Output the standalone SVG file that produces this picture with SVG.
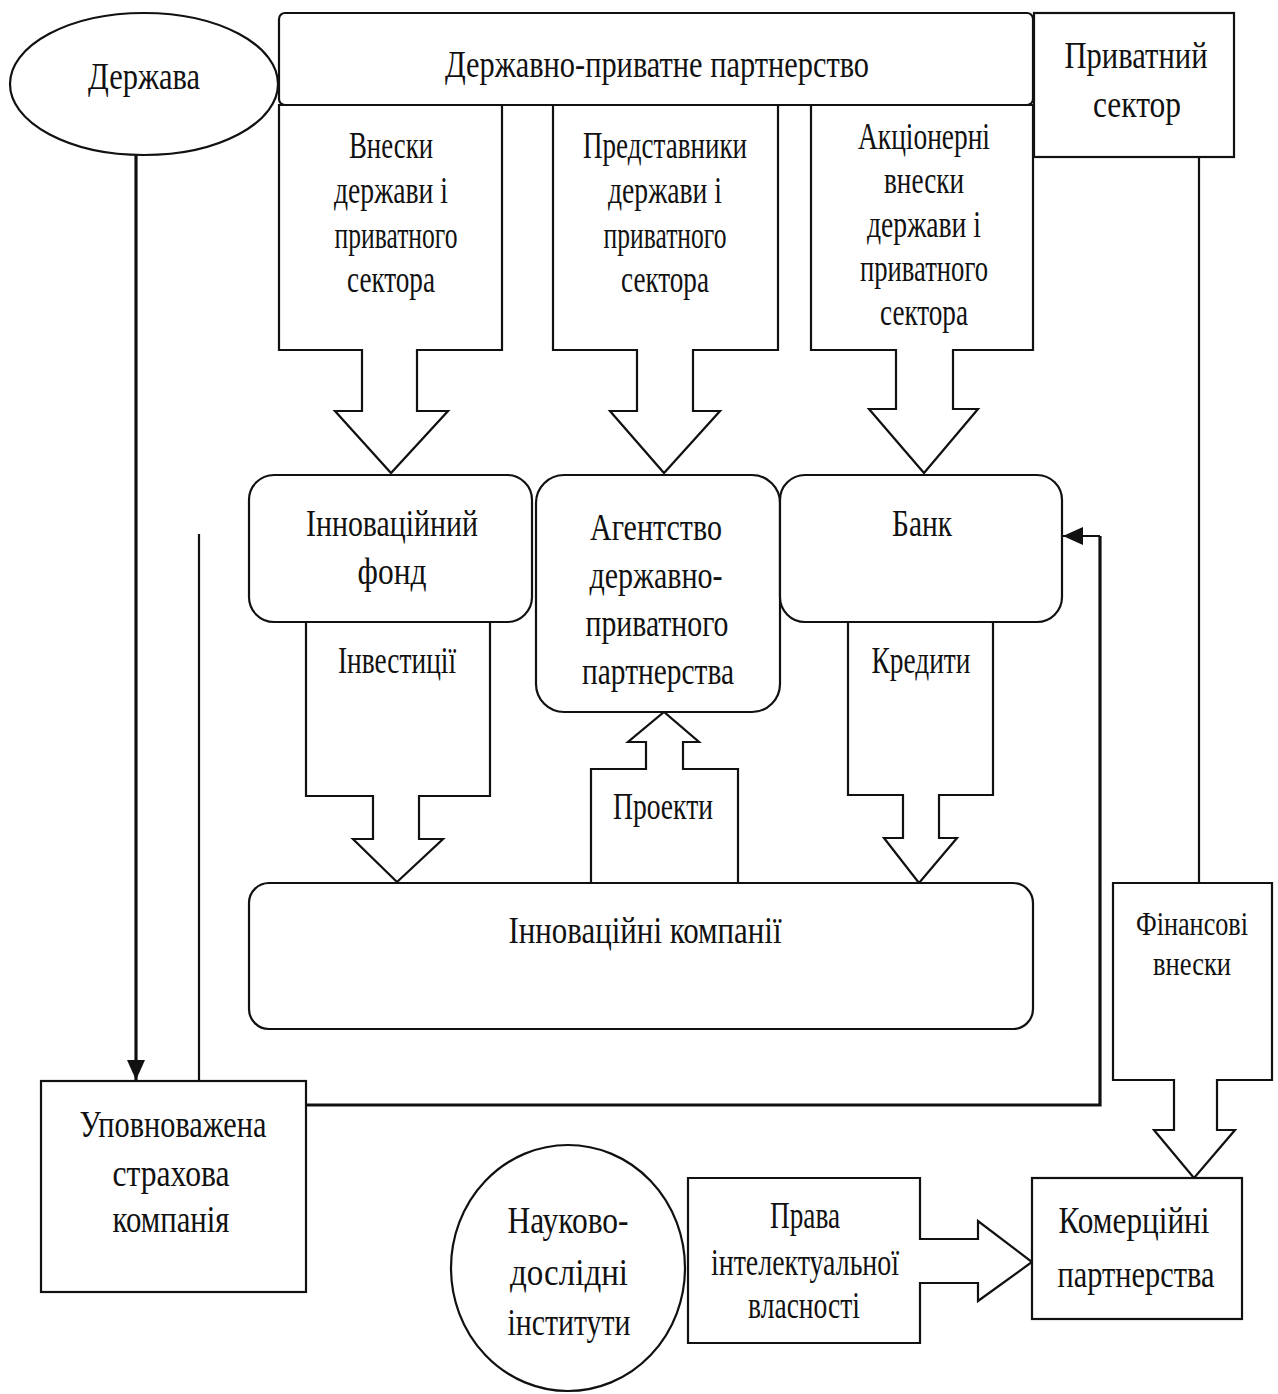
<svg xmlns="http://www.w3.org/2000/svg" width="1278" height="1394" viewBox="0 0 1278 1394">
<style>
.s{fill:#fff;stroke:#111;stroke-width:2.2}
.t{font-family:"Liberation Serif","Times New Roman",serif;font-size:37px;fill:#111;text-anchor:middle}
.c{fill:none;stroke:#111;stroke-width:2.2}
.ck{fill:none;stroke:#111;stroke-width:3.2}
</style>
<defs>
<marker id="ah" viewBox="0 0 20 18" refX="20" refY="9" markerWidth="20" markerHeight="18" orient="auto" markerUnits="userSpaceOnUse">
<path d="M0,0 L20,9 L0,18 Z" fill="#111"/>
</marker>
</defs>
<rect width="1278" height="1394" fill="#fff"/>

<g id="connectors">
<line class="ck" x1="136" y1="155" x2="136" y2="1080" marker-end="url(#ah)"/>
<line class="c" x1="199" y1="534" x2="199" y2="1081"/>
<polyline class="ck" points="306,1105 1100,1105 1100,536" />
<line class="c" x1="1100" y1="536" x2="1063" y2="536" marker-end="url(#ah)"/>
<line class="c" x1="1199" y1="157" x2="1199" y2="883"/>
</g>

<g id="derzhava">
<ellipse class="s" cx="144" cy="84" rx="134" ry="71"/>
<text class="t" x="144" y="89" textLength="112" lengthAdjust="spacingAndGlyphs">Держава</text>
</g>

<g id="ppp">
<rect class="s" x="279" y="13" width="754" height="92" rx="6"/>
<text class="t" x="657" y="77" textLength="424" lengthAdjust="spacingAndGlyphs">Державно-приватне партнерство</text>
</g>

<g id="private-sector">
<rect class="s" x="1034" y="13" width="200" height="144"/>
<text class="t" x="1136" y="68" textLength="143" lengthAdjust="spacingAndGlyphs">Приватний</text>
<text class="t" x="1137" y="117" textLength="88" lengthAdjust="spacingAndGlyphs">сектор</text>
</g>

<g id="contributions">
<polygon class="s" points="279,105 502,105 502,350 417,350 417,411 448,411 391,473 335,411 362,411 362,350 279,350"/>
<text class="t" x="391" y="158" textLength="84" lengthAdjust="spacingAndGlyphs">Внески</text>
<text class="t" x="391" y="203" textLength="114" lengthAdjust="spacingAndGlyphs">держави і</text>
<text class="t" x="396" y="248" textLength="123" lengthAdjust="spacingAndGlyphs">приватного</text>
<text class="t" x="391" y="292" textLength="88" lengthAdjust="spacingAndGlyphs">сектора</text>
</g>

<g id="representatives">
<polygon class="s" points="553,105 778,105 778,350 693,350 693,411 720,411 664,473 610,411 637,411 637,350 553,350"/>
<text class="t" x="665" y="158" textLength="164" lengthAdjust="spacingAndGlyphs">Представники</text>
<text class="t" x="665" y="203" textLength="114" lengthAdjust="spacingAndGlyphs">держави і</text>
<text class="t" x="665" y="248" textLength="123" lengthAdjust="spacingAndGlyphs">приватного</text>
<text class="t" x="665" y="292" textLength="88" lengthAdjust="spacingAndGlyphs">сектора</text>
</g>

<g id="equity">
<polygon class="s" points="811,105 1033,105 1033,350 953,350 953,409 978,409 924,473 869,409 896,409 896,350 811,350"/>
<text class="t" x="924" y="149" textLength="132" lengthAdjust="spacingAndGlyphs">Акціонерні</text>
<text class="t" x="924" y="193" textLength="80" lengthAdjust="spacingAndGlyphs">внески</text>
<text class="t" x="924" y="237" textLength="114" lengthAdjust="spacingAndGlyphs">держави і</text>
<text class="t" x="924" y="281" textLength="128" lengthAdjust="spacingAndGlyphs">приватного</text>
<text class="t" x="924" y="325" textLength="88" lengthAdjust="spacingAndGlyphs">сектора</text>
</g>

<g id="investments">
<polygon class="s" points="306,621 490,621 490,796 419,796 419,839 443,839 397,882 353,839 373,839 373,796 306,796"/>
<text class="t" x="397" y="673" textLength="118" lengthAdjust="spacingAndGlyphs">Інвестиції</text>
</g>

<g id="credits">
<polygon class="s" points="848,621 993,621 993,795 939,795 939,838 957,838 919,883 884,838 903,838 903,795 848,795"/>
<text class="t" x="921" y="673" textLength="99" lengthAdjust="spacingAndGlyphs">Кредити</text>
</g>

<g id="projects">
<polygon class="s" points="591,883 591,769 646,769 646,742 628,742 664,712 699,742 683,742 683,769 738,769 738,883"/>
<text class="t" x="663" y="819" textLength="100" lengthAdjust="spacingAndGlyphs">Проекти</text>
</g>

<g id="innovation-fund">
<rect class="s" x="249" y="475" width="283" height="147" rx="25"/>
<text class="t" x="392" y="536" textLength="172" lengthAdjust="spacingAndGlyphs">Інноваційний</text>
<text class="t" x="392" y="584" textLength="69" lengthAdjust="spacingAndGlyphs">фонд</text>
</g>

<g id="agency">
<rect class="s" x="536" y="475" width="244" height="237" rx="28"/>
<text class="t" x="656" y="540" textLength="132" lengthAdjust="spacingAndGlyphs">Агентство</text>
<text class="t" x="656" y="588" textLength="133" lengthAdjust="spacingAndGlyphs">державно-</text>
<text class="t" x="657" y="636" textLength="143" lengthAdjust="spacingAndGlyphs">приватного</text>
<text class="t" x="658" y="684" textLength="152" lengthAdjust="spacingAndGlyphs">партнерства</text>
</g>

<g id="bank">
<rect class="s" x="780" y="475" width="282" height="147" rx="25"/>
<text class="t" x="922" y="536" textLength="60" lengthAdjust="spacingAndGlyphs">Банк</text>
</g>

<g id="innovation-companies">
<rect class="s" x="249" y="883" width="784" height="146" rx="20"/>
<text class="t" x="645" y="943" textLength="273" lengthAdjust="spacingAndGlyphs">Інноваційні компанії</text>
</g>

<g id="insurance">
<rect class="s" x="41" y="1081" width="265" height="211"/>
<text class="t" x="173" y="1137" textLength="187" lengthAdjust="spacingAndGlyphs">Уповноважена</text>
<text class="t" x="171" y="1186" textLength="117" lengthAdjust="spacingAndGlyphs">страхова</text>
<text class="t" x="171" y="1232" textLength="117" lengthAdjust="spacingAndGlyphs">компанія</text>
</g>

<g id="financial">
<polygon class="s" points="1113,883 1272,883 1272,1080 1217,1080 1217,1130 1235,1130 1194,1178 1154,1130 1174,1130 1174,1080 1113,1080"/>
<text class="t" x="1192" y="935" font-size="33" textLength="112" lengthAdjust="spacingAndGlyphs" style="font-size:33px">Фінансові</text>
<text class="t" x="1192" y="975" font-size="33" textLength="78" lengthAdjust="spacingAndGlyphs" style="font-size:33px">внески</text>
</g>

<g id="research">
<ellipse class="s" cx="568" cy="1268" rx="117" ry="123"/>
<text class="t" x="568" y="1233" textLength="121" lengthAdjust="spacingAndGlyphs">Науково-</text>
<text class="t" x="569" y="1285" textLength="118" lengthAdjust="spacingAndGlyphs">дослідні</text>
<text class="t" x="569" y="1335" textLength="123" lengthAdjust="spacingAndGlyphs">інститути</text>
</g>

<g id="ip-rights">
<polygon class="s" points="688,1178 920,1178 920,1239 978,1239 978,1221 1032,1262 978,1301 978,1283 920,1283 920,1343 688,1343"/>
<text class="t" x="805" y="1228" textLength="70" lengthAdjust="spacingAndGlyphs">Права</text>
<text class="t" x="805" y="1275" textLength="188" lengthAdjust="spacingAndGlyphs">інтелектуальної</text>
<text class="t" x="804" y="1318" textLength="112" lengthAdjust="spacingAndGlyphs">власності</text>
</g>

<g id="commercial">
<rect class="s" x="1032" y="1178" width="210" height="141"/>
<text class="t" x="1134" y="1233" textLength="151" lengthAdjust="spacingAndGlyphs">Комерційні</text>
<text class="t" x="1136" y="1287" textLength="157" lengthAdjust="spacingAndGlyphs">партнерства</text>
</g>
</svg>
